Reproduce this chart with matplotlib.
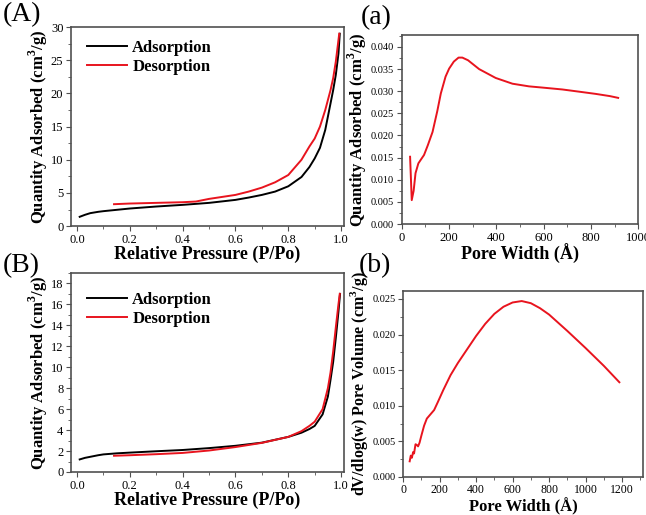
import matplotlib.pyplot as plt
from matplotlib.ticker import AutoMinorLocator

plt.rcParams['font.family'] = ['Liberation Serif', 'DejaVu Serif']
plt.rcParams['mathtext.fontset'] = 'custom'
plt.rcParams['mathtext.rm'] = 'Liberation Serif'
plt.rcParams['mathtext.bf'] = 'Liberation Serif:bold'

# (A) isotherm, sample 1
pA_ads = [0.01, 0.03, 0.05, 0.08, 0.1, 0.15, 0.2, 0.3, 0.4, 0.5, 0.6, 0.65, 0.7, 0.75,
          0.8, 0.85, 0.88, 0.9, 0.92, 0.94, 0.96, 0.97, 0.98, 0.99, 0.995]
qA_ads = [1.4, 1.7, 1.95, 2.15, 2.25, 2.45, 2.65, 2.95, 3.2, 3.5, 3.95, 4.3, 4.7, 5.2,
          6.0, 7.4, 8.9, 10.2, 11.8, 14.5, 18.5, 20.5, 22.8, 26.0, 29.0]
pA_des = [0.14, 0.2, 0.3, 0.4, 0.45, 0.5, 0.6, 0.65, 0.7, 0.75, 0.8, 0.85, 0.88, 0.9,
          0.92, 0.94, 0.95, 0.96, 0.97, 0.98, 0.993]
qA_des = [3.3, 3.4, 3.5, 3.6, 3.7, 4.1, 4.7, 5.2, 5.8, 6.6, 7.7, 10.0, 12.0, 13.2,
          15.0, 17.5, 19.0, 20.5, 22.3, 24.8, 29.0]

# (a) pore distribution, sample 1
wa = [35, 42, 50, 58, 70, 80, 94, 110, 130, 150, 165, 185, 200, 220, 240, 256, 280,
      327, 397, 468, 538, 600, 679, 750, 820, 880, 915]
va = [0.0152, 0.0054, 0.0075, 0.0115, 0.0137, 0.0145, 0.0156, 0.0178, 0.0208, 0.0255,
      0.0295, 0.0333, 0.0351, 0.0367, 0.0376, 0.0376, 0.0370, 0.0350, 0.0330, 0.0317,
      0.0311, 0.0308, 0.0304, 0.0299, 0.0294, 0.0289, 0.0285]

# (B) isotherm, sample 2
pB_ads = [0.01, 0.03, 0.05, 0.08, 0.1, 0.15, 0.2, 0.3, 0.4, 0.5, 0.6, 0.7, 0.8, 0.85,
          0.88, 0.9, 0.93, 0.95, 0.96, 0.97, 0.98, 0.99, 0.996]
qB_ads = [1.2, 1.35, 1.45, 1.6, 1.68, 1.78, 1.85, 1.98, 2.1, 2.28, 2.5, 2.8, 3.35, 3.75,
          4.1, 4.4, 5.5, 7.2, 8.8, 10.5, 12.8, 15.3, 17.0]
pB_des = [0.14, 0.2, 0.3, 0.4, 0.5, 0.6, 0.7, 0.8, 0.85, 0.88, 0.9, 0.93, 0.95, 0.96,
          0.97, 0.98, 0.99, 0.995]
qB_des = [1.55, 1.6, 1.7, 1.82, 2.05, 2.38, 2.78, 3.35, 3.9, 4.4, 4.8, 6.0, 8.0, 9.5,
          11.5, 13.8, 16.0, 17.0]

# (b) pore distribution, sample 2
wb = [36, 42, 48, 55, 60, 68, 75, 82, 90, 100, 115, 130, 150, 170, 190, 220, 260, 300,
      350, 400, 450, 500, 550, 600, 650, 700, 750, 800, 900, 1000, 1100, 1185]
vb = [0.0022, 0.0030, 0.0027, 0.0035, 0.0033, 0.0046, 0.0045, 0.0043, 0.0048, 0.0058,
      0.0072, 0.0082, 0.0088, 0.0094, 0.0105, 0.0122, 0.0143, 0.0160, 0.0179, 0.0198,
      0.0215, 0.0229, 0.0239, 0.0245, 0.0247, 0.0244, 0.0237, 0.0228, 0.0205, 0.0181,
      0.0156, 0.0133]

RED = '#e8141e'
FRAME = '#505050'
YLAB = r'Quantity Adsorbed (cm$^\mathbf{3}$/g)'


def style(ax, size=9):
    for s in ax.spines.values():
        s.set_color(FRAME)
        s.set_linewidth(1.2)
    ax.tick_params(which='both', direction='out', top=False, right=False,
                   labelsize=size, color=FRAME, pad=2)
    ax.tick_params(which='major', length=3.5)
    ax.tick_params(which='minor', length=2)
    ax.xaxis.set_minor_locator(AutoMinorLocator(2))
    ax.yaxis.set_minor_locator(AutoMinorLocator(2))


fig = plt.figure(figsize=(6.46, 5.15), dpi=100)

axA = fig.add_axes([0.110, 0.561, 0.4225, 0.3864])
axA.plot(pA_ads, qA_ads, color='black', lw=1.4, label='Adsorption')
axA.plot(pA_des, qA_des, color=RED, lw=1.4, label='Desorption')
axA.set_xlim(-0.0227, 1.011)
axA.set_ylim(0, 30)
axA.set_xticks([0.0, 0.2, 0.4, 0.6, 0.8, 1.0])
axA.set_xlabel('Relative Pressure (P/Po)', fontsize=13, fontweight='bold', labelpad=0)
axA.set_ylabel(YLAB, fontsize=12, fontweight='bold', labelpad=1)
axA.legend(loc='upper left', bbox_to_anchor=(0.035, 0.97), frameon=False,
           prop={'weight': 'bold', 'size': 12}, handlelength=2.4, handletextpad=0.3,
           borderaxespad=0, labelspacing=0.2)
style(axA)

axa = fig.add_axes([0.622, 0.565, 0.366, 0.367])
axa.plot(wa, va, color=RED, lw=1.4)
axa.set_xlim(0, 1000)
axa.set_ylim(0, 0.0427)
axa.set_yticks([0, 0.005, 0.01, 0.015, 0.02, 0.025, 0.03, 0.035, 0.04])
axa.yaxis.set_major_formatter(plt.FormatStrFormatter('%.3f'))
axa.set_xlabel('Pore Width (Å)', fontsize=13, fontweight='bold', labelpad=0)
axa.set_ylabel(YLAB, fontsize=12, fontweight='bold')
axa.yaxis.set_label_coords(-0.14, 0.5)
style(axa, 9)
axa.tick_params(axis='y', labelsize=7.5)

axB = fig.add_axes([0.110, 0.0835, 0.4225, 0.3866])
axB.plot(pB_ads, qB_ads, color='black', lw=1.4, label='Adsorption')
axB.plot(pB_des, qB_des, color=RED, lw=1.4, label='Desorption')
axB.set_xlim(-0.0227, 1.011)
axB.set_ylim(0, 19)
axB.set_xticks([0.0, 0.2, 0.4, 0.6, 0.8, 1.0])
axB.set_yticks(range(0, 19, 2))
axB.set_xlabel('Relative Pressure (P/Po)', fontsize=13, fontweight='bold', labelpad=0)
axB.set_ylabel(YLAB, fontsize=12, fontweight='bold', labelpad=1)
axB.legend(loc='upper left', bbox_to_anchor=(0.035, 0.94), frameon=False,
           prop={'weight': 'bold', 'size': 12}, handlelength=2.4, handletextpad=0.3,
           borderaxespad=0, labelspacing=0.2)
style(axB)

axb = fig.add_axes([0.624, 0.0738, 0.3715, 0.361])
axb.plot(wb, vb, color=RED, lw=1.4)
axb.set_xlim(0, 1315)
axb.set_ylim(0, 0.0261)
axb.set_xticks(range(0, 1201, 200))
axb.set_yticks([0, 0.005, 0.01, 0.015, 0.02, 0.025])
axb.yaxis.set_major_formatter(plt.FormatStrFormatter('%.3f'))
axb.set_xlabel('Pore Width (Å)', fontsize=12, fontweight='bold')
axb.xaxis.set_label_coords(0.5, -0.112)
axb.set_ylabel(r'dV/dlog(w) Pore Volume (cm$^\mathbf{3}$/g)', fontsize=11.5,
               fontweight='bold')
axb.yaxis.set_label_coords(-0.14, 0.5)
style(axb, 8.5)
axb.tick_params(axis='x', pad=1.5)
axb.tick_params(axis='y', labelsize=7.5)

fig.text(0.005, 0.995, '(A)', fontsize=20, va='top', ha='left')
fig.text(0.558, 0.990, '(a)', fontsize=20, va='top', ha='left')
fig.text(0.005, 0.508, '(B)', fontsize=20, va='top', ha='left')
fig.text(0.555, 0.508, '(b)', fontsize=20, va='top', ha='left')

fig.savefig('out.png', dpi=100)
